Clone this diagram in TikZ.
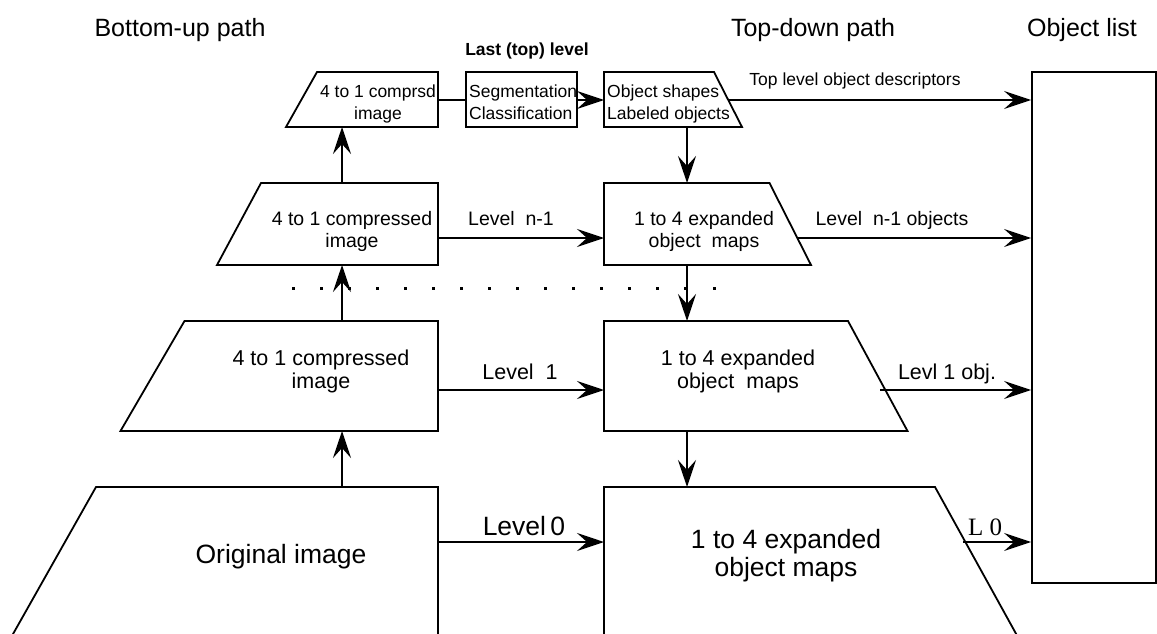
\documentclass[tikz,border=0pt]{standalone}
\usepackage{fontspec}
\setmainfont{Liberation Sans}
\newfontfamily\serifl{Liberation Serif}
\usetikzlibrary{arrows.meta,positioning}

\begin{document}
\begin{tikzpicture}[x=1pt, y=-1pt,
    box/.style={line width=1.8pt},
    flow/.style={line width=1.8pt, -{Stealth[length=27pt, width=18pt, inset=10pt]}},
    lbl/.style={inner sep=0pt, anchor=base},
    blk/.style={inner sep=0pt, anchor=base, align=center},
    fa/.style={font=\fontsize{17.5}{21}\selectfont},
    fb/.style={font=\fontsize{19.5}{22}\selectfont},
    fc/.style={font=\fontsize{21.5}{23}\selectfont},
    fd/.style={font=\fontsize{26.5}{28}\selectfont},
    ttl/.style={inner sep=0pt, anchor=base, font=\fontsize{25}{30}\selectfont}]
    \useasboundingbox (0,0) rectangle (1157,634);
    \clip (0,0) rectangle (1157,634);

    \node[ttl] (hbu) at (180,37) {Bottom-up path};
    \node[ttl] (htd) at (813,37) {Top-down path};
    \node[ttl] (hol) at (1082,37) {Object list};
    \node[lbl, font=\bfseries\fontsize{17.5}{21}\selectfont] (hlast) at (527,56) {Last (top) level};

    \node[draw, box, minimum width=124pt, minimum height=511pt, inner sep=0pt] (list) at (1094,327.5) {};

    % last (top) level
    \draw[box] (317,72) -- (438,72) -- (438,127) -- (286,127) -- cycle;
    \coordinate (c3-e) at (438,100);
    \coordinate (c3-s) at (342,127);
    \node[blk, fa] (c3) at (378,119) {4 to 1 comprsd\\image};
    \node[draw, box, minimum width=111pt, minimum height=55pt, inner sep=0pt] (seg) at (521.5,99.5) {};
    \node[blk, fa, align=left, anchor=base west] (segt) at (469,119) {Segmentation\\Classification};
    \draw[box] (604,72) -- (714,72) -- (742,127) -- (604,127) -- cycle;
    \coordinate (e3-w) at (604,100);
    \coordinate (e3-e) at (728,100);
    \coordinate (e3-s) at (687,127);
    \node[blk, fa, align=left, anchor=base west] (e3) at (607,119) {Object shapes\\Labeled objects};
    \draw[box] (c3-e) -- (seg.west |- c3-e);
    \draw[flow] (seg.east |- e3-w) -- (e3-w);
    \draw[flow] (e3-e) -- (e3-e -| list.west);
    \node[lbl, fa] (l3) at (855,85) {Top level object descriptors};

    % level n-1
    \draw[box] (261,183) -- (438,183) -- (438,265) -- (217,265) -- cycle;
    \coordinate (c2-n) at (342,183);
    \coordinate (c2-s) at (342,265);
    \coordinate (c2-e) at (438,238);
    \node[blk, fb] (c2) at (352,247) {4 to 1 compressed\\image};
    \draw[box] (604,183) -- (769.5,183) -- (811,265) -- (604,265) -- cycle;
    \coordinate (e2-n) at (687,183);
    \coordinate (e2-s) at (687,265);
    \coordinate (e2-w) at (604,238);
    \coordinate (e2-e) at (797,238);
    \node[blk, fb] (e2) at (704,247) {1 to 4 expanded\\object\ \ maps};
    \draw[flow] (c2-n) -- (c3-s);
    \draw[flow] (e3-s) -- (e2-n);
    \draw[flow] (c2-e) -- (e2-w);
    \node[lbl, fb] (l2) at (511,225) {Level\ \ n-1};
    \draw[flow] (e2-e) -- (e2-e -| list.west);
    \node[lbl, fb] (l2o) at (892,225) {Level\ \ n-1 objects};

    \foreach \k in {0,...,15}
        \fill (293+28.07*\k-1.5,286.5) rectangle ++(3,3);

    % level 1
    \draw[box] (184.5,321) -- (438,321) -- (438,431) -- (120.5,431) -- cycle;
    \coordinate (c1-n) at (342,321);
    \coordinate (c1-s) at (342,431);
    \coordinate (c1-e) at (438,390);
    \node[blk, fc] (c1) at (321,388) {4 to 1 compressed\\image};
    \draw[box] (604,321) -- (848,321) -- (907.5,431) -- (604,431) -- cycle;
    \coordinate (e1-n) at (687,321);
    \coordinate (e1-s) at (687,431);
    \coordinate (e1-w) at (604,390);
    \coordinate (e1-e) at (880,390);
    \node[blk, fc] (e1) at (738,388) {1 to 4 expanded\\object\ \ maps};
    \draw[flow] (c1-n) -- (c2-s);
    \draw[flow] (e2-s) -- (e1-n);
    \draw[flow] (c1-e) -- (e1-w);
    \node[lbl, fc] (l1) at (520,379) {Level\ \ 1};
    \draw[flow] (e1-e) -- (e1-e -| list.west);
    \node[lbl, fc] (l1o) at (947,379) {Levl 1 obj.};

    % level 0
    \draw[box] (4,650) -- (96,487) -- (438,487) -- (438,650);
    \coordinate (c0-n) at (342,487);
    \coordinate (c0-e) at (438,542);
    \node[lbl, fd] (c0) at (281,563) {Original image};
    \draw[box] (604,650) -- (604,487) -- (935,487) -- (1025,650);
    \coordinate (e0-n) at (687,487);
    \coordinate (e0-w) at (604,542);
    \coordinate (e0-e) at (963,542);
    \node[blk, fd] (e0) at (786,576) {1 to 4 expanded\\object maps};
    \draw[flow] (c0-n) -- (c1-s);
    \draw[flow] (e1-s) -- (e0-n);
    \draw[flow] (c0-e) -- (e0-w);
    \node[lbl, fd] (l0) at (524,535) {Level\,0};
    \draw[flow] (e0-e) -- (e0-e -| list.west);
    \node[lbl, font=\serifl\fontsize{25}{30}\selectfont] (l0o) at (985,535) {L 0};
\end{tikzpicture}
\end{document}
